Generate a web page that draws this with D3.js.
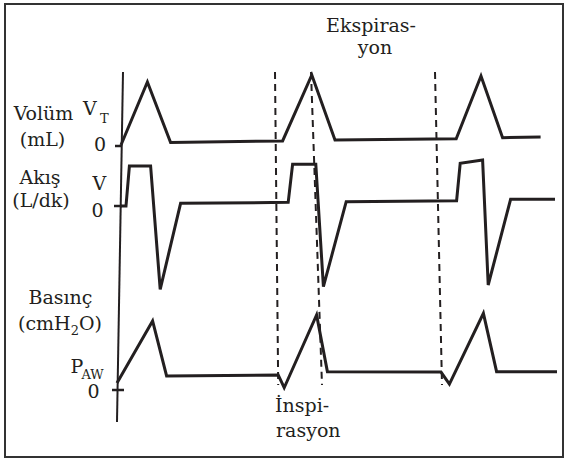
<!DOCTYPE html>
<html>
<head>
<meta charset="utf-8">
<script src="https://cdn.jsdelivr.net/npm/d3@7"></script>
<style>
  body { margin: 0; background: #fff; }
  text { font-family: "DejaVu Serif", serif; fill: #231f20; }
</style>
</head>
<body>
<div id="chart"></div>
<script>
// config
var WD = 566, HT = 460

// data (time in s)
var volTime  = [0.1, 0.76, 1.34, 4.14, 4.87, 5.45, 8.48, 9.1, 9.64, 10.59]
var volValue = [0, 500, 20, 32, 556, 40, 50, 548, 58, 63]           // mL

var flowTime  = [0.1, 0.225, 0.31, 0.84, 1.08, 1.59, 4.28, 4.39, 4.97, 5.16, 5.73, 8.49, 8.58, 9.14, 9.28, 9.84, 10.95]
var flowValue = [0, 0, 60, 60, -125, 4, 5.5, 62.5, 62.5, -121, 6.5, 8, 64, 69, -118.5, 10, 10]   // L/dk

var presTime  = [0, 0.89, 1.24, 4.03, 4.18, 4.99, 5.26, 8.1, 8.31, 9.16, 9.49, 11]
var presValue = [0, 30, 3.4, 3.9, -2.3, 32.9, 5.5, 5.3, -0.5, 33.7, 5.5, 5.5]  // cmH2O

// phase markers (dashed), time at top and at bottom
var markTop    = [3.95, 4.85, 7.95]
var markBottom = [4.03, 5.125, 8.125]

// scales
var x = d3.scaleLinear().domain([0, 11]).range([117, 557])
var yVol = d3.scaleLinear().domain([0, 500]).range([145, 82])
var yFlow = d3.scaleLinear().domain([0, 60]).range([206, 166])
var yPres = d3.scaleLinear().domain([0, 30]).range([383, 321])

var svg = d3.select("#chart").append("svg")
    .attr("width", WD)
    .attr("height", HT)

// frame
svg.append("rect")
    .attr("x", 5).attr("y", 4)
    .attr("width", 558).attr("height", 453)
    .attr("fill", "none")
    .attr("stroke", "#333")
    .attr("stroke-width", 2)

// hand drawn vertical axis + zero ticks
svg.append("line")
    .attr("x1", 123).attr("y1", 72).attr("x2", 117).attr("y2", 422)
    .attr("stroke", "#231f20").attr("stroke-width", 2)

var ticks = [[115, 122, 146], [114, 122, 206], [112, 124, 390]]
svg.selectAll("line.tick")
    .data(ticks)
    .enter().append("line")
    .attr("class", "tick")
    .attr("x1", function(d){ return d[0]; })
    .attr("x2", function(d){ return d[1]; })
    .attr("y1", function(d){ return d[2]; })
    .attr("y2", function(d){ return d[2]; })
    .attr("stroke", "#231f20").attr("stroke-width", 2.5)

// dashed phase lines
svg.selectAll("line.mark")
    .data(d3.range(markTop.length))
    .enter().append("line")
    .attr("class", "mark")
    .attr("x1", function(i){ return x(markTop[i]); })
    .attr("y1", 72)
    .attr("x2", function(i){ return x(markBottom[i]); })
    .attr("y2", 385)
    .attr("stroke", "#231f20")
    .attr("stroke-width", 2)
    .attr("stroke-dasharray", "7,5")

// curves
function drawCurve(ts, vs, yScale) {
    var pts = ts.map(function(t, i){ return [t, vs[i]]; })
    var line = d3.line()
        .x(function(d){ return x(d[0]); })
        .y(function(d){ return yScale(d[1]); })
    svg.append("path")
        .datum(pts)
        .attr("d", line)
        .attr("fill", "none")
        .attr("stroke", "#231f20")
        .attr("stroke-width", 3)
        .attr("stroke-linejoin", "miter")
}
drawCurve(volTime, volValue, yVol)
drawCurve(flowTime, flowValue, yFlow)
drawCurve(presTime, presValue, yPres)

// labels
function label(txt, xx, yy, anchor) {
    return svg.append("text")
        .attr("x", xx).attr("y", yy)
        .attr("text-anchor", anchor || "middle")
        .attr("font-size", 19)
        .text(txt)
}
label("Volüm", 43.5, 120)
label("(mL)", 42.5, 146)
label("Akış", 40, 184)
label("(L/dk)", 41, 207)
label("Basınç", 60.5, 304)
label("V", 83, 115, "start")
label("0", 94, 151, "start")
label("V", 92.5, 190, "start")
label("0", 91.5, 217, "start")
label("P", 70.5, 373, "start")
label("0", 87.5, 398, "start")

// subscripts
svg.append("text").attr("x", 100).attr("y", 122.5).attr("font-size", 13).text("T")
svg.append("text").attr("x", 81.5).attr("y", 379).attr("font-size", 13).text("AW")

var cm = label("", 60, 330)
cm.append("tspan").text("(cmH")
cm.append("tspan").attr("font-size", 13).attr("dy", 5).text("2")
cm.append("tspan").attr("dy", -5).text("O)")

label("Ekspiras-", 371, 32)
label("yon", 375, 54)
label("İnspi-", 275, 412, "start")
label("rasyon", 276, 437, "start")
</script>
</body>
</html>
